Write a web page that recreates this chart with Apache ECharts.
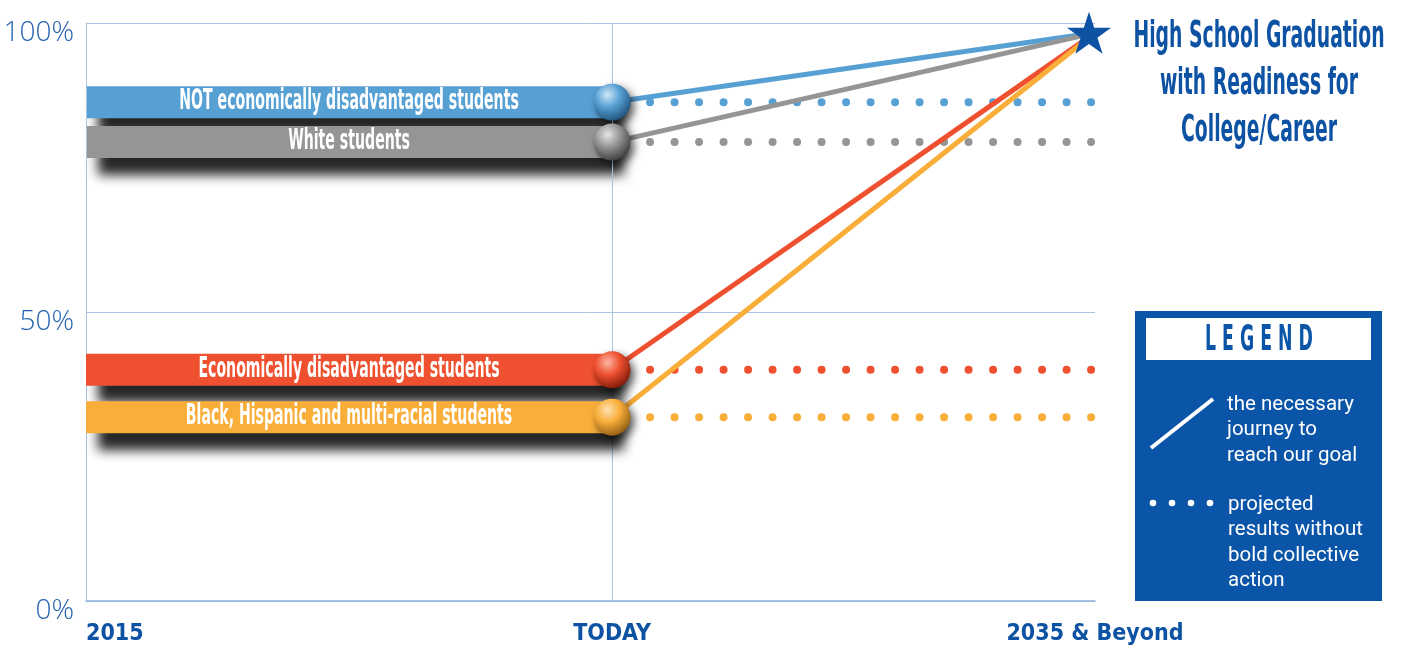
<!DOCTYPE html>
<html>
<head>
<meta charset="utf-8">
<script src="https://cdn.jsdelivr.net/npm/echarts@6/dist/echarts.min.js"></script>
<style>html,body{margin:0;padding:0;background:#fff;}#c{width:1403px;height:651px;}</style>
</head>
<body>
<div id="c"></div>
<script>
// ---- data ----
var xLabels = ['2015', 'TODAY', '2035 & Beyond'];
var xPositions = [0, 1, 1.918];   // relative position of each milestone on the time axis
var groups = ['NOT economically disadvantaged students', 'White students', 'Economically disadvantaged students', 'Black, Hispanic and multi-racial students'];
var todayValues = [86.3, 79.4, 40.0, 31.8];
var goalValue = 98.3;
var yTicks = [0, 50, 100];
var colors = ['#57a0d4', '#959595', '#ef5130', '#f9ae3a'];
var shades = ['#1d4f78', '#3a3a3a', '#7a1808', '#8a5a10'];
var lights = ['#cfe6f7', '#e6e6e6', '#fbb7a6', '#fde2b0'];

var COND = '"DejaVu Sans Condensed", "DejaVu Sans", sans-serif';
var BLUE = '#0d52a3';
var X0 = xPositions[0], X1 = xPositions[1], X2 = xPositions[2];

var series = [];
groups.forEach(function (g, i) {
  var v = todayValues[i];
  series.push({
    type: 'line', z: 1, silent: true, symbol: 'none',
    data: [[X1, v], [X2, v]],
    lineStyle: { color: colors[i], width: 8, type: [0, 24.5], cap: 'round', dashOffset: -13.5 }
  });
  series.push({
    type: 'line', z: 2, silent: true, symbol: 'none',
    data: [[X1, v], [X2, goalValue]],
    lineStyle: { color: colors[i], width: 5 }
  });
  series.push({
    type: 'line', z: 3 + i, silent: true, symbol: 'none',
    data: [[X0, v], [X1, v]],
    lineStyle: { color: colors[i], width: 32, cap: 'butt',
      shadowColor: 'rgba(0,0,0,0.85)', shadowBlur: 12, shadowOffsetX: 12, shadowOffsetY: 17 }
  });
  series.push({
    type: 'scatter', z: 8 + i, silent: true, symbol: 'circle', symbolSize: 37,
    data: [[X1, v]],
    itemStyle: {
      opacity: 1,
      color: { type: 'radial', x: 0.38, y: 0.3, r: 0.75,
        colorStops: [{ offset: 0, color: lights[i] }, { offset: 0.45, color: colors[i] }, { offset: 1, color: shades[i] }] },
      shadowColor: 'rgba(0,0,0,0.6)', shadowBlur: 8, shadowOffsetX: 4, shadowOffsetY: 4
    }
  });
});
// grid verticals at the milestones
series.push({
  type: 'line', z: 0, silent: true, symbol: 'none', data: [],
  markLine: { silent: true, symbol: 'none', label: { show: false },
    lineStyle: { color: '#a9c5e3', width: 1, type: 'solid' },
    data: xPositions.map(function (x) { return { xAxis: x }; }) }
});
// goal star
series.push({
  type: 'scatter', z: 20, silent: true,
  symbol: 'path://M50,0 L61.8,36.2 L100,36.2 L69.1,58.6 L80.9,95 L50,72.6 L19.1,95 L30.9,58.6 L0,36.2 L38.2,36.2 Z',
  symbolSize: [44, 42], symbolOffset: [-6, 0],
  data: [[X2, goalValue]],
  itemStyle: { color: BLUE, opacity: 1 }
});

var chart = echarts.init(document.getElementById('c'));
chart.setOption({
  animation: false,
  grid: { left: 86, right: 308, top: 23, bottom: 50, containLabel: false },
  xAxis: {
    type: 'value', min: X0, max: X2,
    axisLine: { show: true, lineStyle: { color: '#8fb3da', width: 1.5 } },
    axisTick: { show: false },
    splitLine: { show: false },
    axisLabel: {
      customValues: xPositions,
      margin: 22, color: BLUE, fontFamily: COND, fontWeight: 'bold', fontSize: 23,
      formatter: function (val) {
        var k = xPositions.indexOf(val);
        return k >= 0 ? xLabels[k] : '';
      },
      alignMinLabel: 'left', alignMaxLabel: 'center'
    }
  },
  yAxis: {
    type: 'value', min: 0, max: 100, interval: 50,
    axisLine: { show: true, lineStyle: { color: '#a9c5e3' } },
    axisTick: { show: false },
    splitLine: { show: true, lineStyle: { color: '#a9c5e3', width: 1 } },
    axisLabel: {
      margin: 12, color: '#2462ae', fontFamily: '"Open Sans", sans-serif', fontWeight: 'lighter', fontSize: 28,
      verticalAlign: 'top', lineHeight: 20,
      formatter: function (val) { return yTicks.indexOf(val) >= 0 ? val + '%' : ''; }
    }
  },
  series: series
});

// band labels placed through the axes' scales
var graphics = [];
groups.forEach(function (g, i) {
  var p = chart.convertToPixel({ gridIndex: 0 }, [(X0 + X1) / 2, todayValues[i]]);
  graphics.push({ type: 'text', z: 100, x: p[0], y: p[1], scaleX: 0.56, scaleY: 1,
    style: { text: g, fill: '#fff', font: 'bold 28px ' + COND, align: 'center', verticalAlign: 'middle' } });
});
graphics.push(
  { type: 'text', z: 100, x: 1259, y: 14, scaleX: 0.55, style: {
      text: 'High School Graduation\nwith Readiness for\nCollege/Career',
      fill: BLUE, font: 'bold 38px ' + COND, lineHeight: 47, align: 'center' } },
  { type: 'rect', z: 100, shape: { x: 1135, y: 311, width: 247, height: 290 }, style: { fill: '#0a55a8' } },
  { type: 'rect', z: 101, shape: { x: 1146, y: 318, width: 225, height: 42 }, style: { fill: '#fff' } },
  { type: 'text', z: 102, x: 1259, y: 341, scaleX: 0.55, style: { text: 'L E G E N D', fill: '#0a55a8',
      font: 'bold 35px ' + COND, align: 'center', verticalAlign: 'middle' } },
  { type: 'line', z: 102, shape: { x1: 1151, y1: 448, x2: 1213, y2: 399 }, style: { stroke: '#fff', lineWidth: 4 } },
  { type: 'text', z: 102, x: 1227, y: 392, style: { text: 'the necessary\njourney to\nreach our goal', fill: '#fff',
      font: '20.5px Roboto', lineHeight: 25.5 } },
  { type: 'circle', z: 102, shape: { cx: 1153, cy: 503, r: 3.3 }, style: { fill: '#fff' } },
  { type: 'circle', z: 102, shape: { cx: 1172, cy: 503, r: 3.3 }, style: { fill: '#fff' } },
  { type: 'circle', z: 102, shape: { cx: 1191, cy: 503, r: 3.3 }, style: { fill: '#fff' } },
  { type: 'circle', z: 102, shape: { cx: 1210, cy: 503, r: 3.3 }, style: { fill: '#fff' } },
  { type: 'text', z: 102, x: 1228, y: 492, style: { text: 'projected\nresults without\nbold collective\naction', fill: '#fff',
      font: '20.5px Roboto', lineHeight: 25.5 } }
);
chart.setOption({ graphic: graphics });
</script>
</body>
</html>
